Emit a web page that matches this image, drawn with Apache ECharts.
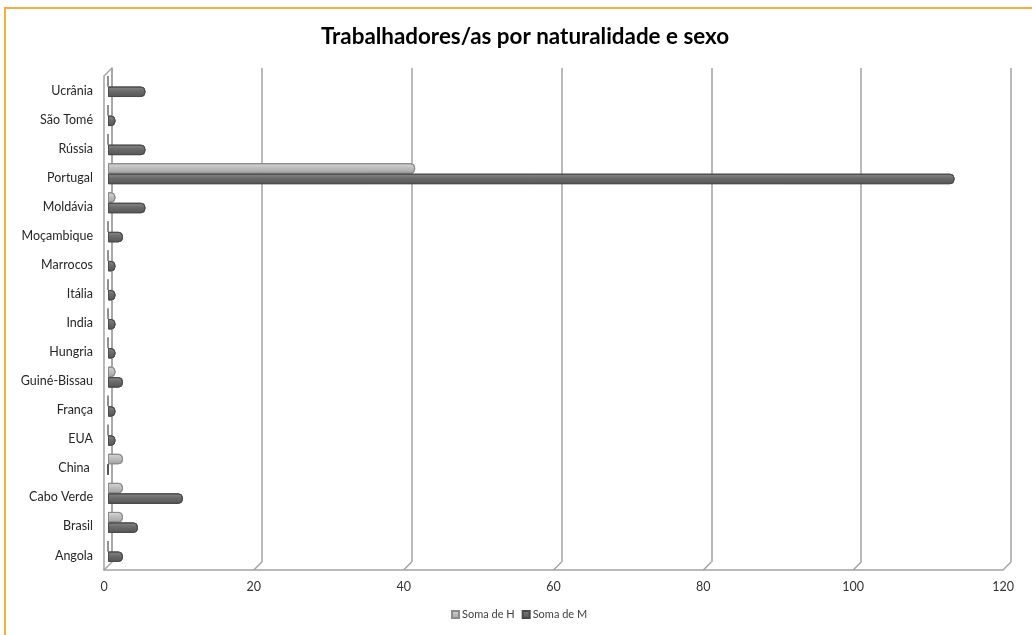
<!DOCTYPE html>
<html>
<head>
<meta charset="utf-8">
<script src="https://cdn.jsdelivr.net/npm/echarts@6/dist/echarts.min.js"></script>
<style>
  html, body { margin: 0; padding: 0; background: #ffffff; }
  #chart { width: 1032px; height: 635px; }
</style>
</head>
<body>
<div id="chart"></div>
<script>
// Countries of origin, listed bottom to top
const categories = ['Angola', 'Brasil', 'Cabo Verde', 'China ', 'EUA', 'França', 'Guiné-Bissau',
  'Hungria', 'India', 'Itália', 'Marrocos', 'Moçambique', 'Moldávia', 'Portugal', 'Rússia',
  'São Tomé', 'Ucrânia'];
// Workers per country, men (H) and women (M)
const somaH = [0, 2, 2, 2, 0, 0, 1, 0, 0, 0, 0, 0, 1, 41, 0, 0, 0];
const somaM = [2, 4, 10, 0, 1, 1, 2, 1, 1, 1, 1, 2, 5, 113, 5, 1, 5];
const xTicks = [0, 20, 40, 60, 80, 100, 120];

const FONT = 'Lato';
const axisMin = xTicks[0];
const axisMax = xTicks[xTicks.length - 1];
const step = xTicks[1] - xTicks[0];

const chart = echarts.init(document.getElementById('chart'));

function grad(c0, c1, c2) {
  return new echarts.graphic.LinearGradient(0, 0, 0, 1, [
    { offset: 0, color: c0 }, { offset: 0.45, color: c1 }, { offset: 1, color: c2 }
  ]);
}

const option = {
  animation: false,
  title: {
    text: 'Trabalhadores/as por naturalidade e sexo',
    left: 520, top: 21, textAlign: 'center',
    textStyle: { fontFamily: FONT, fontWeight: 'bold', fontSize: 22.4, color: '#000000' }
  },
  legend: {
    bottom: 10, left: 446,
    icon: 'rect', itemWidth: 7, itemHeight: 7, itemGap: 7,
    textStyle: { fontFamily: FONT, fontSize: 11, color: '#404040', padding: [0, 0, 0, -2] },
    data: ['Soma de H', 'Soma de M']
  },
  grid: [
    // back wall
    { left: 112, right: 21, top: 68, bottom: 73 },
    // bars, half-way through the depth
    { left: 108, right: 25, top: 72, bottom: 69 },
    // front plane carrying the labels
    { left: 104, right: 29, top: 76, bottom: 65 }
  ],
  xAxis: [
    { gridIndex: 0, type: 'value', min: axisMin, max: axisMax, interval: step,
      axisLine: { show: false }, axisTick: { show: false }, axisLabel: { show: false },
      splitLine: { show: true, lineStyle: { color: '#a3a3a3', width: 1.5 } } },
    { gridIndex: 1, type: 'value', min: axisMin, max: axisMax, interval: step, show: false },
    { gridIndex: 2, type: 'value', min: axisMin, max: axisMax, interval: step,
      axisLine: { show: true, lineStyle: { color: '#a3a3a3', width: 1.5 } },
      axisTick: { show: false }, splitLine: { show: false },
      axisLabel: { margin: 10, fontFamily: FONT, fontSize: 12.5, color: '#333333' } }
  ],
  yAxis: [
    { gridIndex: 0, type: 'category', data: categories,
      axisLine: { show: true, lineStyle: { color: '#a3a3a3', width: 1.5 } },
      axisTick: { show: false }, axisLabel: { show: false } },
    { gridIndex: 1, type: 'category', data: categories, show: false },
    { gridIndex: 2, type: 'category', data: categories,
      axisLine: { show: true, lineStyle: { color: '#a3a3a3', width: 1.5 } },
      axisTick: { show: false },
      axisLabel: { margin: 11, fontFamily: FONT, fontSize: 12.5, color: '#262626' } }
  ],
  series: [
    { name: 'Soma de H', type: 'bar', xAxisIndex: 1, yAxisIndex: 1, data: somaH,
      barWidth: 10.5, barGap: '0%',
      itemStyle: { color: grad('#d8d8d8', '#bdbdbd', '#a2a2a2'), borderColor: '#8a8a8a',
        borderWidth: 1, borderRadius: [0, 4, 4, 0] } },
    { name: 'Soma de M', type: 'bar', xAxisIndex: 1, yAxisIndex: 1, data: somaM,
      barWidth: 10.5, barGap: '0%',
      itemStyle: { color: grad('#888888', '#6a6a6a', '#555555'), borderColor: '#4a4a4a',
        borderWidth: 1, borderRadius: [0, 4, 4, 0] } }
  ]
};
chart.setOption(option);

// Frame decorations: orange outline, 3D edges joining the back wall to the front plane
const lineStyle = { stroke: '#a3a3a3', lineWidth: 1.5 };
const deco = [{
  type: 'rect', silent: true, z: 0,
  shape: { x: 5, y: 8, width: 1200, height: 800 },
  style: { fill: null, stroke: '#f5ad3f', lineWidth: 2 }
}];
const backRect = chart.getModel().getComponent('grid', 0).coordinateSystem.getRect();
const frontRect = chart.getModel().getComponent('grid', 2).coordinateSystem.getRect();
xTicks.forEach(function (t) {
  const back = chart.convertToPixel({ xAxisIndex: 0, yAxisIndex: 0 }, [t, categories[0]]);
  const front = chart.convertToPixel({ xAxisIndex: 2, yAxisIndex: 2 }, [t, categories[0]]);
  deco.push({ type: 'line', silent: true,
    shape: { x1: back[0], y1: backRect.y + backRect.height,
      x2: front[0], y2: frontRect.y + frontRect.height },
    style: lineStyle });
});
deco.push({ type: 'line', silent: true,
  shape: { x1: backRect.x, y1: backRect.y, x2: frontRect.x, y2: frontRect.y }, style: lineStyle });
chart.setOption({ graphic: deco });
</script>
</body>
</html>
